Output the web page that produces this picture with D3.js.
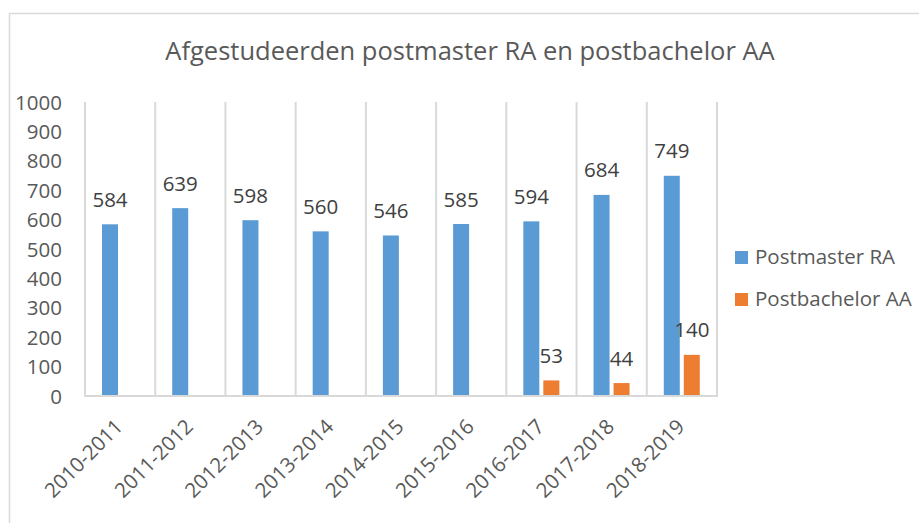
<!DOCTYPE html>
<html lang="nl">
<head>
    <meta charset="UTF-8">
    <title>Afgestudeerden</title>
    <script src="https://d3js.org/d3.v7.min.js"></script>
    <style>
        body { margin: 0; background: #fff; }
        text { font-family: "Open Sans", sans-serif; }
        .tick-label { font-size: 20.5px; fill: #595959; }
        .value-label { font-size: 20.5px; fill: #404040; text-anchor: middle; }
    </style>
</head>
<body>
    <div id="chart"></div>

    <script>
        // chart data
        const years = ["2010-2011", "2011-2012", "2012-2013", "2013-2014", "2014-2015",
                       "2015-2016", "2016-2017", "2017-2018", "2018-2019"];
        const postmasterRA = [584, 639, 598, 560, 546, 585, 594, 684, 749];
        const postbachelorAA = [null, null, null, null, null, null, 53, 44, 140];
        const seriesNames = ["Postmaster RA", "Postbachelor AA"];
        const seriesColors = ["#5b9bd5", "#ed7d31"];
        const yTicks = [0, 100, 200, 300, 400, 500, 600, 700, 800, 900, 1000];

        const W = 919, H = 523;
        const plot = { left: 85, right: 717, top: 102, bottom: 396 };

        const svg = d3.select("#chart")
            .append("svg")
            .attr("width", W)
            .attr("height", H);

        // outer chart border
        svg.append("rect")
            .attr("x", 9.5).attr("y", 13.5)
            .attr("width", W + 20).attr("height", H + 20)
            .attr("fill", "none")
            .attr("stroke", "#d9d9d9")
            .attr("stroke-width", 1.5);

        svg.append("text")
            .attr("x", 470)
            .attr("y", 60)
            .attr("text-anchor", "middle")
            .attr("font-size", "25.5px")
            .attr("fill", "#595959")
            .text("Afgestudeerden postmaster RA en postbachelor AA");

        const x = d3.scaleBand()
            .domain(years)
            .range([plot.left, plot.right])
            .paddingInner(0)
            .paddingOuter(0);

        const inner = d3.scaleBand()
            .domain(seriesNames)
            .range([17, 53])
            .paddingInner(0.2)
            .paddingOuter(0);

        const y = d3.scaleLinear()
            .domain([0, 1000])
            .range([plot.bottom, plot.top]);

        // vertical gridlines between categories
        const bounds = years.map(d => x(d)).concat([plot.right]);
        svg.append("g")
            .selectAll("line")
            .data(bounds)
            .enter()
            .append("line")
            .attr("x1", d => d).attr("x2", d => d)
            .attr("y1", plot.top).attr("y2", plot.bottom)
            .attr("stroke", "#d9d9d9")
            .attr("stroke-width", 2);

        // y axis labels (no line)
        const yAxis = svg.append("g")
            .attr("transform", `translate(${plot.left - 23},0)`)
            .call(d3.axisLeft(y).tickValues(yTicks).tickFormat(d3.format("d")).tickSize(0).tickPadding(0));
        yAxis.select(".domain").remove();
        yAxis.selectAll("text")
            .attr("class", "tick-label")
            .attr("dy", "0.35em")
            .attr("font-family", null)
            .attr("font-size", null)
            .attr("fill", null);

        const seriesData = [postmasterRA, postbachelorAA];
        const bars = [];
        seriesData.forEach((vals, s) => {
            vals.forEach((v, i) => {
                if (v !== null) bars.push({ year: years[i], series: seriesNames[s], value: v, color: seriesColors[s] });
            });
        });

        svg.append("g")
            .selectAll("rect")
            .data(bars)
            .enter()
            .append("rect")
            .attr("x", d => x(d.year) + inner(d.series))
            .attr("y", d => y(d.value))
            .attr("width", inner.bandwidth())
            .attr("height", d => y(0) - y(d.value))
            .attr("fill", d => d.color);

        svg.append("g")
            .selectAll("text")
            .data(bars)
            .enter()
            .append("text")
            .attr("class", "value-label")
            .attr("x", d => x(d.year) + inner(d.series) + inner.bandwidth() / 2)
            .attr("y", d => y(d.value) - 17.5)
            .text(d => d.value);

        // x axis baseline
        svg.append("line")
            .attr("x1", plot.left - 1).attr("x2", plot.right + 1)
            .attr("y1", plot.bottom).attr("y2", plot.bottom)
            .attr("stroke", "#d9d9d9")
            .attr("stroke-width", 2);

        // rotated category labels
        svg.append("g")
            .selectAll("text")
            .data(years)
            .enter()
            .append("text")
            .attr("class", "tick-label")
            .attr("text-anchor", "end")
            .attr("transform", d => `translate(${x(d) + x.bandwidth() / 2 + 4},${plot.bottom + 32}) rotate(-45)`)
            .text(d => d);

        // legend
        const legend = svg.append("g")
            .selectAll("g")
            .data(seriesNames)
            .enter()
            .append("g")
            .attr("transform", (d, i) => `translate(735,${251 + i * 42})`);

        legend.append("rect")
            .attr("width", 13).attr("height", 13)
            .attr("fill", (d, i) => seriesColors[i]);

        legend.append("text")
            .attr("class", "tick-label")
            .attr("x", 20)
            .attr("y", 13)
            .text(d => d);
    </script>
</body>
</html>
